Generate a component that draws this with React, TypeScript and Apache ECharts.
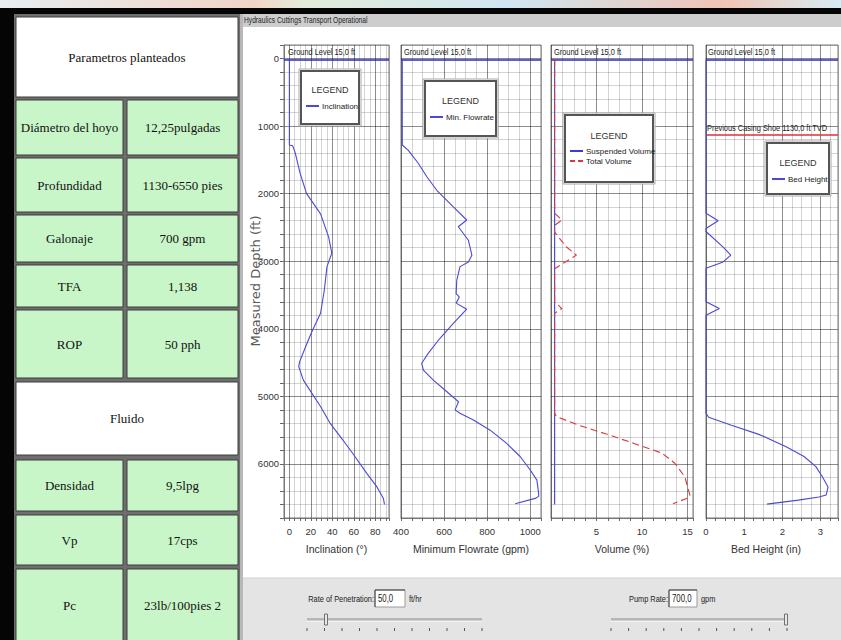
import React, { useEffect, useRef } from 'react';
import * as echarts from 'echarts';

// ---------- data ----------
const depthLabels = [0, 1000, 2000, 3000, 4000, 5000, 6000];
const inclinationLabels = [0, 20, 40, 60, 80];
const flowrateLabels = [400, 600, 800, 1000];
const volumeLabels = [5, 10, 15];
const bedLabels = [0, 1, 2, 3];

// [value, measured depth ft]
const inclination: [number, number][] = [
  [0, 15], [0, 1280], [3, 1290], [5.5, 1400], [10, 1700], [12, 1800], [16, 2000], [29, 2300],
  [36.5, 2640], [39.5, 2880], [35, 3080], [32.5, 3430], [29, 3770], [21, 4040], [15, 4270],
  [9.5, 4490], [8.7, 4560], [13, 4760], [21, 4955], [29, 5150], [38, 5400], [50, 5650],
  [61, 5890], [72, 6140], [81.5, 6340], [87.5, 6510], [88.5, 6600],
];
const minFlowrate: [number, number][] = [
  [406, 15], [406, 1280], [434, 1360], [480, 1550], [520, 1750], [566, 1950], [643, 2195],
  [705, 2390], [666, 2490], [713, 2690], [729, 2910], [713, 3010], [674, 3080], [659, 3280],
  [656, 3480], [671, 3530], [656, 3620], [705, 3710], [643, 3920], [581, 4140], [527, 4360],
  [496, 4510], [504, 4610], [550, 4760], [605, 4910], [667, 5080], [651, 5200], [674, 5250],
  [736, 5350], [814, 5500], [892, 5700], [953, 5890], [1000, 6090], [1031, 6240], [1039, 6440],
  [1039, 6480], [1023, 6510], [930, 6590],
];
const suspendedVolume: [number, number][] = [[0.4, 15], [0.4, 6600]];
const totalVolume: [number, number][] = [
  [0.4, 15], [0.4, 2290], [1.2, 2390], [0.4, 2470], [0.4, 2570], [1.7, 2790], [2.8, 2910],
  [1.35, 3030], [0.4, 3110], [0.4, 3600], [1.2, 3700], [0.4, 3770], [0.4, 5250], [0.6, 5300],
  [3, 5425], [5.9, 5550], [9.2, 5700], [12.2, 5840], [13.6, 5990], [14.7, 6190], [15, 6340],
  [15.3, 6480], [14.9, 6510], [13.4, 6590],
];
const bedHeight: [number, number][] = [
  [0, 15], [0, 2290], [0.32, 2400], [0, 2515], [0, 2560], [0.45, 2790], [0.65, 2910],
  [0.45, 3010], [0, 3105], [0, 3600], [0.35, 3700], [0, 3800], [0, 5250], [0.07, 5310],
  [0.65, 5425], [1.42, 5570], [2.1, 5745], [2.57, 5890], [2.88, 6040], [3.05, 6190],
  [3.2, 6340], [3.15, 6460], [2.96, 6490], [2.42, 6535], [1.6, 6595],
];
const groundLevel = 15;
const casingShoe = 1130;
const groundLabel = 'Ground Level 15,0 ft';
const casingLabel = 'Previous Casing Shoe 1130,0 ft TVD';

const tableHeader = 'Parametros planteados';
const tableRowsA: [string, string][] = [
  ['Diámetro del hoyo', '12,25pulgadas'],
  ['Profundidad', '1130-6550 pies'],
  ['Galonaje', '700 gpm'],
  ['TFA', '1,138'],
  ['ROP', '50 pph'],
];
const fluidHeader = 'Fluido';
const tableRowsB: [string, string][] = [
  ['Densidad', '9,5lpg'],
  ['Vp', '17cps'],
  ['Pc', '23lb/100pies 2'],
];

// ---------- styles ----------
const AR = '"Liberation Sans", Arial, sans-serif';
const SERIF = '"Liberation Serif", "Times New Roman", serif';
const SANS = '"DejaVu Sans", "Liberation Sans", sans-serif';
const MAJ = 'rgba(0,0,0,0.45)';
const MIN = 'rgba(0,0,0,0.17)';
const BLUE = '#4a4ad2';
const GBLUE = '#2a2ab8';
const RED = '#d9383f';

const fmt = (labels: number[]) => (v: number) => {
  const l = labels.find((x) => Math.abs(x - v) < 1e-6);
  return l === undefined ? '' : String(l);
};

function xAxis(gridIndex: number, min: number, max: number, interval: number, labels: number[], name: string, colors: string[], namePad = 0) {
  return {
    type: 'value', gridIndex, min, max, interval, name, nameLocation: 'middle', nameGap: 25,
    nameTextStyle: { fontFamily: AR, fontSize: 10.5, color: '#333', padding: [0, namePad, 0, 0] },
    axisLine: { show: true, onZero: false, lineStyle: { color: '#777' } },
    axisTick: { show: true, length: 3, lineStyle: { color: '#666' } },
    axisLabel: { formatter: fmt(labels), fontFamily: AR, fontSize: 9.5, color: '#333', margin: 8 },
    splitLine: { show: true, lineStyle: { color: colors, width: 1 } },
  };
}

function yAxis(gridIndex: number, first: boolean) {
  return {
    type: 'value', gridIndex, inverse: true, min: -200, max: 6800, interval: 200,
    axisLine: { show: first, onZero: false, lineStyle: { color: '#777' } },
    axisTick: { show: first, length: 4, lineStyle: { color: '#666' } },
    axisLabel: { show: first, formatter: fmt(depthLabels), fontFamily: AR, fontSize: 9.5, color: '#333', margin: 5 },
    splitLine: { show: true, lineStyle: { color: [MIN, MAJ, MIN, MIN, MIN], width: 1 } },
  };
}

const groundMark = { yAxis: groundLevel, lineStyle: { color: GBLUE, width: 1.5, type: 'solid' } };
const casingMark = { yAxis: casingShoe, lineStyle: { color: '#e0303a', width: 1.5, type: 'solid' } };
const markLine = (data: any[]) => ({ silent: true, symbol: 'none', animation: false, label: { show: false }, data });

function narrowText(x: number, y: number, text: string, size: number, opts: any = {}) {
  return {
    type: 'text', x, y, scaleX: opts.scaleX ?? 0.78, z: opts.z ?? 30,
    style: {
      text, x: 0, y: 0, fill: opts.fill ?? '#222', fontFamily: AR, fontSize: size,
      align: opts.align ?? 'left', textAlign: opts.align ?? 'left',
      verticalAlign: 'middle', textVerticalAlign: 'middle',
    },
  };
}

function buildGraphic() {
  const g: any[] = [];
  // top background strip
  g.push({ type: 'rect', shape: { x: 0, y: 0, width: 841, height: 9 }, style: { fill: { type: 'linear', x: 0, y: 0, x2: 1, y2: 0, colorStops: [
    { offset: 0, color: '#e8eef2' }, { offset: 0.3, color: '#f1d4c6' }, { offset: 0.36, color: '#e2ecd8' },
    { offset: 0.6, color: '#cfe6f2' }, { offset: 0.86, color: '#f0c4b4' }, { offset: 1, color: '#d8ecf4' }] } }, z: 1 });
  g.push({ type: 'rect', shape: { x: 0, y: 8, width: 841, height: 6 }, style: { fill: '#050505' }, z: 1 });
  // left panel
  g.push({ type: 'rect', shape: { x: 0, y: 14, width: 15, height: 626 }, style: { fill: '#050505' }, z: 1 });
  g.push({ type: 'rect', shape: { x: 14, y: 14, width: 227, height: 626 }, style: { fill: '#6e6e6e' }, z: 1 });
  const cell = (x: number, y: number, w: number, h: number, fill: string, text: string) => {
    g.push({ type: 'rect', shape: { x, y, width: w, height: h }, style: { fill, stroke: '#3c3c3c', lineWidth: 1 }, z: 2 });
    g.push({ type: 'text', x: x + w / 2, y: y + h / 2, style: { text, fill: '#111', fontFamily: SERIF, fontSize: 13, align: 'center', verticalAlign: 'middle', textAlign: 'center', textVerticalAlign: 'middle' }, z: 3 });
  };
  const GREEN = '#c8f6c8';
  cell(16, 17, 222, 80, '#ffffff', tableHeader);
  const rowsA = [[100, 155], [158, 212], [215, 262], [265, 307], [310, 378]];
  tableRowsA.forEach((r, i) => {
    const [y0, y1] = rowsA[i];
    cell(16, y0, 107, y1 - y0, GREEN, r[0]);
    cell(127, y0, 111, y1 - y0, GREEN, r[1]);
  });
  cell(16, 382, 222, 73, '#ffffff', fluidHeader);
  const rowsB = [[460, 511], [515, 565], [569, 642]];
  tableRowsB.forEach((r, i) => {
    const [y0, y1] = rowsB[i];
    cell(16, y0, 107, y1 - y0, GREEN, r[0]);
    cell(127, y0, 111, y1 - y0, GREEN, r[1]);
  });
  // app window frame
  g.push({ type: 'rect', shape: { x: 240, y: 14, width: 3, height: 626 }, style: { fill: '#b8b8b8' }, z: 1 });
  g.push({ type: 'rect', shape: { x: 243, y: 14, width: 598, height: 13 }, style: { fill: '#cdcdcd' }, z: 1 });
  g.push(narrowText(244, 20.5, 'Hydraulics Cuttings Transport Operational', 9, { scaleX: 0.74 }));
  g.push({ type: 'rect', shape: { x: 243, y: 578, width: 598, height: 62 }, style: { fill: '#e4e4e4' }, z: 1 });
  g.push({ type: 'line', shape: { x1: 243, y1: 578, x2: 841, y2: 578 }, style: { stroke: '#d0d0d0', lineWidth: 1 }, z: 1 });

  // y axis title
  g.push({ type: 'text', x: 255, y: 281, rotation: Math.PI / 2, z: 30,
    style: { text: 'Measured Depth (ft)', x: 0, y: 0, fill: '#5a5a5a', fontFamily: SANS, fontSize: 13, align: 'center', textAlign: 'center', verticalAlign: 'middle', textVerticalAlign: 'middle' } });

  // reference line labels
  g.push(narrowText(288, 52, groundLabel, 9.5));
  g.push(narrowText(404, 52, groundLabel, 9.5));
  g.push(narrowText(554, 52, groundLabel, 9.5));
  g.push(narrowText(708, 52, groundLabel, 9.5));
  g.push(narrowText(707, 128, casingLabel, 9.5));

  // sliders
  const slider = (label: string, labelRight: number, boxX: number, boxW: number, value: string, unit: string, x0: number, x1: number, thumb: number) => {
    g.push(narrowText(labelRight, 599, label, 9.5, { align: 'right', z: 3 }));
    g.push({ type: 'rect', shape: { x: boxX, y: 590, width: boxW, height: 17 }, style: { fill: '#ffffff', stroke: '#9a9a9a', lineWidth: 1 }, z: 2 });
    g.push({ type: 'polyline', shape: { points: [[boxX, 607], [boxX, 590], [boxX + boxW, 590]] }, style: { stroke: '#404040', lineWidth: 1, fill: null }, z: 3 });
    g.push(narrowText(boxX + 3, 599, value, 10, { z: 3 }));
    g.push(narrowText(boxX + boxW + 4, 599, unit, 9.5, { z: 3 }));
    g.push({ type: 'line', shape: { x1: x0, y1: 619, x2: x1, y2: 619 }, style: { stroke: '#8a8a8a', lineWidth: 1 }, z: 2 });
    g.push({ type: 'line', shape: { x1: x0, y1: 621, x2: x1, y2: 621 }, style: { stroke: '#ffffff', lineWidth: 1 }, z: 2 });
    g.push({ type: 'line', shape: { x1: x0, y1: 620, x2: x1, y2: 620 }, style: { stroke: '#b0b0b0', lineWidth: 1 }, z: 2 });
    g.push({ type: 'rect', shape: { x: thumb - 1.5, y: 614, width: 3, height: 11 }, style: { fill: '#e8e8e8', stroke: '#707070', lineWidth: 1 }, z: 3 });
    for (let i = 0; i <= 10; i++) {
      const x = x0 + ((x1 - x0) * i) / 10;
      g.push({ type: 'line', shape: { x1: x, y1: 628, x2: x, y2: 631 }, style: { stroke: '#555', lineWidth: 1 }, z: 2 });
    }
  };
  slider('Rate of Penetration:', 374, 375, 30, '50,0', 'ft/hr', 307, 482, 326);
  slider('Pump Rate:', 668, 669, 28, '700,0', 'gpm', 611, 787, 786);

  // legend boxes
  const legendBox = (x: number, y: number, w: number, h: number, ty: number) => {
    g.push({ type: 'rect', shape: { x: x - 1, y: y - 1, width: w + 2, height: h + 2 }, style: { fill: '#ffffff', stroke: '#a8a8a8', lineWidth: 1 }, z: 20 });
    g.push({ type: 'rect', shape: { x: x + 1, y: y + 1, width: w - 2, height: h - 2 }, style: { fill: '#ffffff', stroke: '#555555', lineWidth: 2 }, z: 20 });
    g.push({ type: 'text', x: x + w / 2, y: ty, z: 30, style: { text: 'LEGEND', x: 0, y: 0, fill: '#333', fontFamily: AR, fontSize: 9, align: 'center', textAlign: 'center', verticalAlign: 'middle', textVerticalAlign: 'middle' } });
  };
  legendBox(300, 70, 60, 55, 90);
  legendBox(424, 80, 73, 57, 101);
  legendBox(564, 114, 90, 69, 136);
  legendBox(766, 142, 64, 53, 163);
  return g;
}

function legend(data: any[], left: number, top: number) {
  return {
    data, left, top, orient: 'vertical', itemWidth: 13, itemHeight: 2, itemGap: 2, padding: 0,
    selectedMode: false, z: 30, icon: 'rect',
    textStyle: { fontFamily: AR, fontSize: 8, color: '#1a1a1a', padding: [0, 0, 0, -2] },
  };
}

export default function App() {
  const ref = useRef<HTMLDivElement>(null);
  useEffect(() => {
    if (!ref.current) return;
    const chart = echarts.init(ref.current, undefined, { renderer: 'svg' });
    const lineS = (name: string, data: [number, number][], idx: number, color: string, extra: any = {}) => ({
      name, type: 'line', data, xAxisIndex: idx, yAxisIndex: idx, symbol: 'none', showSymbol: false,
      lineStyle: { color, width: 1.1 }, itemStyle: { color }, z: 5, ...extra,
    });
    chart.setOption({
      animation: false,
      backgroundColor: '#ffffff',
      grid: [
        { left: 284, top: 45, width: 105, height: 473, show: true, backgroundColor: '#fff', borderColor: '#7a7a7a', borderWidth: 1 },
        { left: 401, top: 45, width: 140, height: 473, show: true, backgroundColor: '#fff', borderColor: '#7a7a7a', borderWidth: 1 },
        { left: 551, top: 45, width: 142, height: 473, show: true, backgroundColor: '#fff', borderColor: '#7a7a7a', borderWidth: 1 },
        { left: 706, top: 45, width: 150, height: 473, show: true, backgroundColor: '#fff', borderColor: '#7a7a7a', borderWidth: 1 },
      ],
      xAxis: [
        xAxis(0, -5, 92.7, 5, inclinationLabels, 'Inclination (°)', [MIN, MAJ, MIN, MIN]),
        xAxis(1, 400, 1050, 50, flowrateLabels, 'Minimum Flowrate (gpm)', [MAJ, MIN, MIN, MIN]),
        xAxis(2, 0, 15.6, 1.25, volumeLabels, 'Volume (%)', [MAJ, MIN, MIN, MIN]),
        xAxis(3, 0, 3.46, 0.25, bedLabels, 'Bed Height (in)', [MAJ, MIN, MIN, MIN], 12),
      ],
      yAxis: [yAxis(0, true), yAxis(1, false), yAxis(2, false), yAxis(3, false)],
      legend: [
        legend(['Inclination'], 306, 102),
        legend(['Min. Flowrate'], 430, 113),
        legend([{ name: 'Suspended Volume', icon: 'rect' }, { name: 'Total Volume', icon: 'path://M0,0H5V2H0Z M8,0H13V2H8Z' }], 570, 147),
        legend(['Bed Height'], 772, 175),
      ],
      graphic: buildGraphic(),
      series: [
        lineS('Inclination', inclination, 0, BLUE, { markLine: markLine([groundMark]) }),
        lineS('Min. Flowrate', minFlowrate, 1, BLUE, { markLine: markLine([groundMark]) }),
        lineS('Suspended Volume', suspendedVolume, 2, '#3d3dc8', { markLine: markLine([groundMark]) }),
        lineS('Total Volume', totalVolume, 2, RED, { lineStyle: { color: RED, width: 1.1, type: [7, 4] } }),
        lineS('Bed Height', bedHeight, 3, BLUE, { markLine: markLine([groundMark, casingMark]) }),
      ],
    });
    return () => chart.dispose();
  }, []);
  return <div ref={ref} style={{ position: 'fixed', left: 0, top: 0, width: 841, height: 640 }} />;
}
